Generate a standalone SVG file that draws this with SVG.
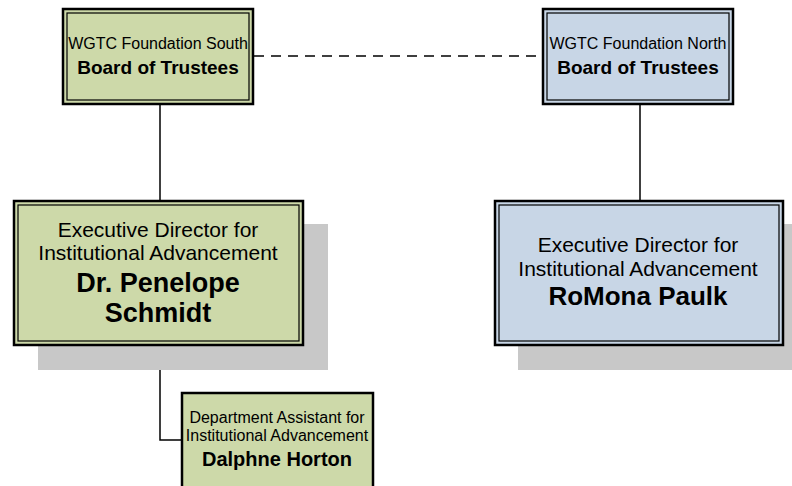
<svg xmlns="http://www.w3.org/2000/svg" width="792" height="486" viewBox="0 0 792 486">
<style>
.green{fill:#cdd9a9}
.blue{fill:#c8d6e6}
.outer{stroke:#000;stroke-width:2.5;}
.inner{fill:none;stroke:#000;stroke-width:1.2}
.shadow{fill:#c8c8c8}
text{font-family:"Liberation Sans",Arial,sans-serif;fill:#000;text-anchor:middle}
.r16{font-size:16px}
.b19{font-size:19px;font-weight:bold}
.b20{font-size:20px;font-weight:bold}
.r21{font-size:21px}
.b26{font-size:26px;font-weight:bold}
.b27{font-size:27px;font-weight:bold}
.conn{fill:none;stroke:#000;stroke-width:1.5}
</style>
<rect width="792" height="486" fill="#fff"/>
<g id="connectors">
<line class="conn" x1="254" y1="56" x2="542" y2="56" stroke-dasharray="10,7"/>
<line class="conn" x1="160" y1="104" x2="160" y2="200"/>
<line class="conn" x1="640" y1="104" x2="640" y2="200"/>
<polyline class="conn" points="160,345 160,440 182,440"/>
</g>
<g id="south-board">
<rect class="green outer" x="63" y="9" width="190" height="95"/>
<rect class="inner" x="67" y="13" width="182" height="87"/>
<text class="r16" x="158" y="49">WGTC Foundation South</text>
<text class="b19" x="158" y="74">Board of Trustees</text>
</g>
<g id="north-board">
<rect class="blue outer" x="543" y="9" width="190" height="95"/>
<rect class="inner" x="547" y="13" width="182" height="87"/>
<text class="r16" x="638" y="49">WGTC Foundation North</text>
<text class="b19" x="638" y="74">Board of Trustees</text>
</g>
<g id="south-exec">
<rect class="shadow" x="38" y="224" width="290" height="146"/>
<rect class="green outer" x="14" y="201" width="289" height="144"/>
<rect class="inner" x="18" y="205" width="281" height="136"/>
<text class="r21" x="158" y="237">Executive Director for</text>
<text class="r21" x="158" y="260">Institutional Advancement</text>
<text class="b27" x="158" y="292">Dr. Penelope</text>
<text class="b27" x="158" y="322">Schmidt</text>
</g>
<g id="north-exec">
<rect class="shadow" x="518" y="224" width="274" height="146"/>
<rect class="blue outer" x="495" y="201" width="288" height="144"/>
<rect class="inner" x="499" y="205" width="280" height="136"/>
<text class="r21" x="638" y="252">Executive Director for</text>
<text class="r21" x="638" y="276">Institutional Advancement</text>
<text class="b26" x="638" y="305">RoMona Paulk</text>
</g>
<g id="dept-assistant">
<rect class="green outer" x="182" y="393" width="191" height="110"/>
<text class="r16" x="277" y="423">Department Assistant for</text>
<text class="r16" x="277" y="441">Institutional Advancement</text>
<text class="b20" x="277" y="466">Dalphne Horton</text>
</g>
</svg>
